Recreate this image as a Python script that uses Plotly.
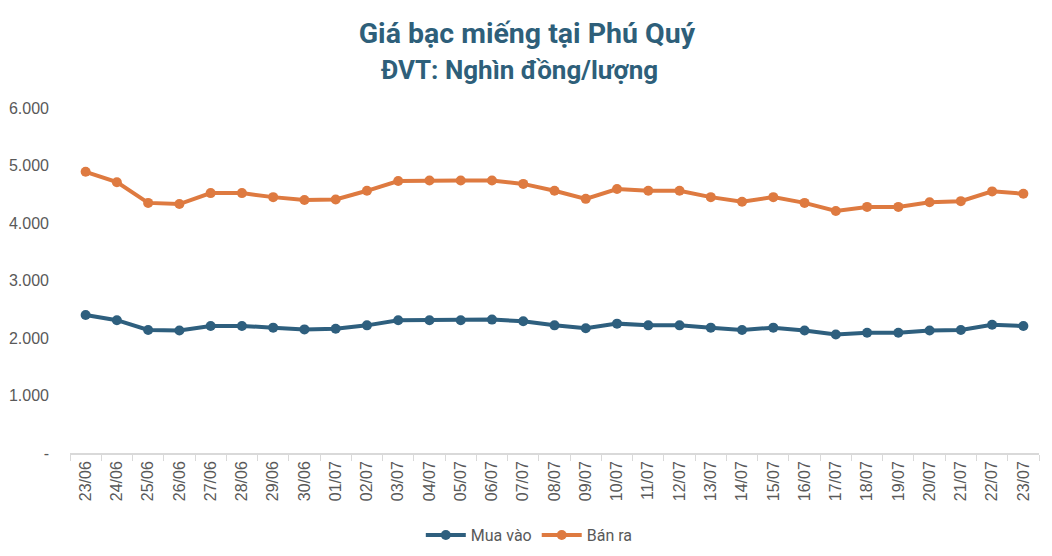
import plotly.graph_objects as go

# Ngày (trục hoành)
ngay = ["23/06", "24/06", "25/06", "26/06", "27/06", "28/06", "29/06", "30/06",
        "01/07", "02/07", "03/07", "04/07", "05/07", "06/07", "07/07", "08/07",
        "09/07", "10/07", "11/07", "12/07", "13/07", "14/07", "15/07", "16/07",
        "17/07", "18/07", "19/07", "20/07", "21/07", "22/07", "23/07"]

# Giá mua vào / bán ra (nghìn đồng/lượng)
mua_vao = [2400, 2310, 2140, 2130, 2210, 2210, 2180, 2150,
           2160, 2220, 2310, 2310, 2310, 2320, 2290, 2220,
           2170, 2250, 2220, 2220, 2180, 2140, 2180, 2130,
           2060, 2090, 2090, 2130, 2140, 2230, 2210]
ban_ra = [4890, 4710, 4350, 4330, 4520, 4520, 4450, 4400,
          4410, 4560, 4730, 4740, 4740, 4740, 4680, 4560,
          4420, 4590, 4560, 4560, 4450, 4370, 4450, 4350,
          4210, 4280, 4280, 4360, 4380, 4550, 4510]

y_ticks = [0, 1000, 2000, 3000, 4000, 5000, 6000]
y_labels = ["-", "1.000", "2.000", "3.000", "4.000", "5.000", "6.000"]

fig = go.Figure()
fig.add_trace(go.Scatter(x=ngay, y=mua_vao, name="Mua vào", mode="lines+markers",
                         line=dict(color="#2E5F7E", width=4),
                         marker=dict(size=10, color="#2E5F7E")))
fig.add_trace(go.Scatter(x=ngay, y=ban_ra, name="Bán ra", mode="lines+markers",
                         line=dict(color="#DE7A40", width=4),
                         marker=dict(size=10, color="#DE7A40")))

# page body has an 8px margin, so the figure is a bit smaller and shifted
fig.update_layout(
    width=1044, height=548,
    margin=dict(l=62, r=13, t=100, b=103, autoexpand=False),
    paper_bgcolor="white", plot_bgcolor="white",
    title=dict(
        text="<b>Giá bạc miếng tại Phú Quý</b>",
        x=0.497, xanchor="center", y=0.954, yanchor="middle",
        font=dict(family="Roboto", size=28.5, color="#2E5F7A"),
    ),
    font=dict(family="Liberation Sans", size=16, color="#595959"),
    showlegend=True,
    legend=dict(orientation="h", x=0.474, xanchor="center", y=-0.238, yanchor="middle",
                itemwidth=40, tracegroupgap=0,
                font=dict(family="Roboto", size=16, color="#595959")),
)
fig.add_annotation(
    text="<b>ĐVT: Nghìn đồng/lượng</b>", xref="paper", yref="paper",
    x=0.464, y=1.110, xanchor="center", yanchor="middle", showarrow=False,
    font=dict(family="Roboto", size=26, color="#2E5F7A"),
)
fig.update_xaxes(
    type="category", range=[-0.5, len(ngay) - 0.5], tickangle=-90,
    showgrid=False, automargin=False,
    showline=True, linecolor="#D9D9D9", linewidth=1.5,
    ticks="outside", tickson="boundaries", ticklen=6, tickcolor="#D9D9D9",
    tickfont=dict(size=16, color="#595959"),
)
fig.update_yaxes(
    range=[0, 6000], tickvals=y_ticks, ticktext=y_labels, automargin=False,
    showgrid=False, zeroline=False, showline=False, ticks="",
    ticklabelstandoff=20, tickfont=dict(size=16, color="#595959"),
)

fig.write_html("out.html")
